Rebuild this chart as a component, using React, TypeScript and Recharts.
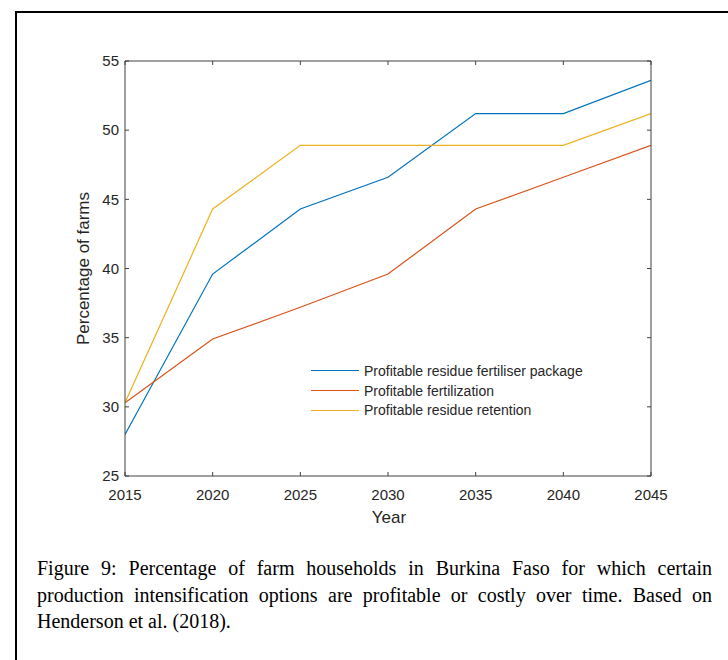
import React from 'react';
import { LineChart, Line, XAxis, YAxis, Legend } from 'recharts';

// data (percentage of farms per year)
const years = [2015, 2020, 2025, 2030, 2035, 2040, 2045];
const residueFertiliserPackage = [28.0, 39.6, 44.3, 46.6, 51.2, 51.2, 53.6];
const fertilization = [30.3, 34.9, 37.2, 39.6, 44.3, 46.6, 48.9];
const residueRetention = [30.3, 44.3, 48.9, 48.9, 48.9, 48.9, 51.2];

const xTicks = [2015, 2020, 2025, 2030, 2035, 2040, 2045];
const yTicks = [25, 30, 35, 40, 45, 50, 55];

const seriesNames = [
  'Profitable residue fertiliser package',
  'Profitable fertilization',
  'Profitable residue retention',
];

const data = years.map((year, i) => ({
  year,
  pkg: residueFertiliserPackage[i],
  fert: fertilization[i],
  ret: residueRetention[i],
}));

const colors = {
  blue: '#0072BD',
  orange: '#D95319',
  yellow: '#EDB120',
  axis: '#404040',
  text: '#262626',
};

const sans = '"Liberation Sans", Arial, sans-serif';
const TICK_LEN = 4;
const X_TICK_GAP = 13;
const Y_TICK_GAP = 6;

// MATLAB style ticks: short marks pointing into the plot box
const BottomTick = ({ x, y, payload }: any) => {
  const axisY = y - X_TICK_GAP;
  return (
    <g>
      <line x1={x} x2={x} y1={axisY} y2={axisY - TICK_LEN} stroke={colors.axis} />
      <text x={x} y={y} dy="0.71em" textAnchor="middle" fill={colors.text} fontSize={15} fontFamily={sans}>
        {payload.value}
      </text>
    </g>
  );
};

const LeftTick = ({ x, y, payload }: any) => {
  const axisX = x + Y_TICK_GAP;
  return (
    <g>
      <line x1={axisX} x2={axisX + TICK_LEN} y1={y} y2={y} stroke={colors.axis} />
      <text x={x} y={y} dy="0.355em" textAnchor="end" fill={colors.text} fontSize={15} fontFamily={sans}>
        {payload.value}
      </text>
    </g>
  );
};

const TopTick = ({ x, y }: any) => (
  <line x1={x} x2={x} y1={y} y2={y + TICK_LEN} stroke={colors.axis} />
);

const RightTick = ({ x, y }: any) => (
  <line x1={x} x2={x - TICK_LEN} y1={y} y2={y} stroke={colors.axis} />
);

const YLabel = ({ viewBox }: any) => {
  const cx = 89;
  const cy = viewBox ? viewBox.y + viewBox.height / 2 : 268;
  return (
    <text x={cx} y={cy} transform={`rotate(-90 ${cx} ${cy})`} textAnchor="middle"
      fill={colors.text} fontSize={17} fontFamily={sans}>
      Percentage of farms
    </text>
  );
};

const XLabel = ({ viewBox }: any) => {
  const cx = viewBox ? viewBox.x + viewBox.width / 2 : 388;
  return (
    <text x={cx + 1} y={523} textAnchor="middle" fill={colors.text} fontSize={17} fontFamily={sans}>
      Year
    </text>
  );
};

const LegendBox = ({ payload }: any) => {
  const items = [...(payload || [])].sort(
    (a: any, b: any) => seriesNames.indexOf(a.value) - seriesNames.indexOf(b.value),
  );
  return (
    <div style={{ fontFamily: sans, fontSize: 14, color: colors.text }}>
      {items.map((entry: any) => (
        <div key={entry.value} style={{ display: 'flex', alignItems: 'center', height: 19.7 }}>
          <div style={{ width: 48, height: 0, borderTop: `1.2px solid ${entry.color}`, marginRight: 5 }} />
          <span style={{ whiteSpace: 'nowrap' }}>{entry.value}</span>
        </div>
      ))}
    </div>
  );
};

export default function App() {
  return (
    <div style={{
      position: 'absolute', left: 0, top: 0, width: 728, height: 660,
      overflow: 'hidden', background: '#fff',
    }}>
      <div style={{
        position: 'absolute', left: 15, top: 11, width: 800, height: 800,
        borderTop: '2px solid #000', borderLeft: '2px solid #000',
      }} />
      <div style={{ position: 'absolute', left: 0, top: 0 }}>
        <LineChart width={728} height={540} data={data}
          margin={{ top: 60, right: 76, bottom: 24, left: 65 }}>
          <XAxis dataKey="year" type="number" domain={[2015, 2045]} ticks={xTicks}
            allowDataOverflow tick={<BottomTick />} tickLine={false} tickSize={0} tickMargin={X_TICK_GAP}
            height={40} axisLine={{ stroke: colors.axis }} label={<XLabel />} />
          <XAxis xAxisId="top" dataKey="year" orientation="top" type="number" domain={[2015, 2045]}
            ticks={xTicks} allowDataOverflow tick={<TopTick />} tickLine={false} tickSize={0}
            tickMargin={0} height={1} axisLine={{ stroke: colors.axis }} />
          <YAxis type="number" domain={[25, 55]} ticks={yTicks} allowDataOverflow
            tick={<LeftTick />} tickLine={false} tickSize={0} tickMargin={Y_TICK_GAP} width={60}
            axisLine={{ stroke: colors.axis }} label={<YLabel />} />
          <YAxis yAxisId="right" orientation="right" type="number" domain={[25, 55]} ticks={yTicks}
            allowDataOverflow tick={<RightTick />} tickLine={false} tickSize={0} tickMargin={0}
            width={1} axisLine={{ stroke: colors.axis }} />
          <Legend layout="vertical" align="center" verticalAlign="middle"
            wrapperStyle={{ left: 311, top: 361, width: 'auto' }}
            content={<LegendBox />} />
          <Line dataKey="pkg" name={seriesNames[0]} stroke={colors.blue} strokeWidth={1.2}
            dot={false} isAnimationActive={false} />
          <Line dataKey="fert" name={seriesNames[1]} stroke={colors.orange} strokeWidth={1.2}
            dot={false} isAnimationActive={false} />
          <Line dataKey="ret" name={seriesNames[2]} stroke={colors.yellow} strokeWidth={1.2}
            dot={false} isAnimationActive={false} />
        </LineChart>
      </div>
      <div style={{
        position: 'absolute', left: 37, top: 555, width: 675,
        fontFamily: '"Liberation Serif", "Times New Roman", serif', fontSize: 20,
        lineHeight: '26.7px', textAlign: 'justify', color: '#000',
      }}>
        Figure 9: Percentage of farm households in Burkina Faso for which certain
        production intensification options are profitable or costly over time. Based on
        Henderson et al. (2018).
      </div>
    </div>
  );
}
